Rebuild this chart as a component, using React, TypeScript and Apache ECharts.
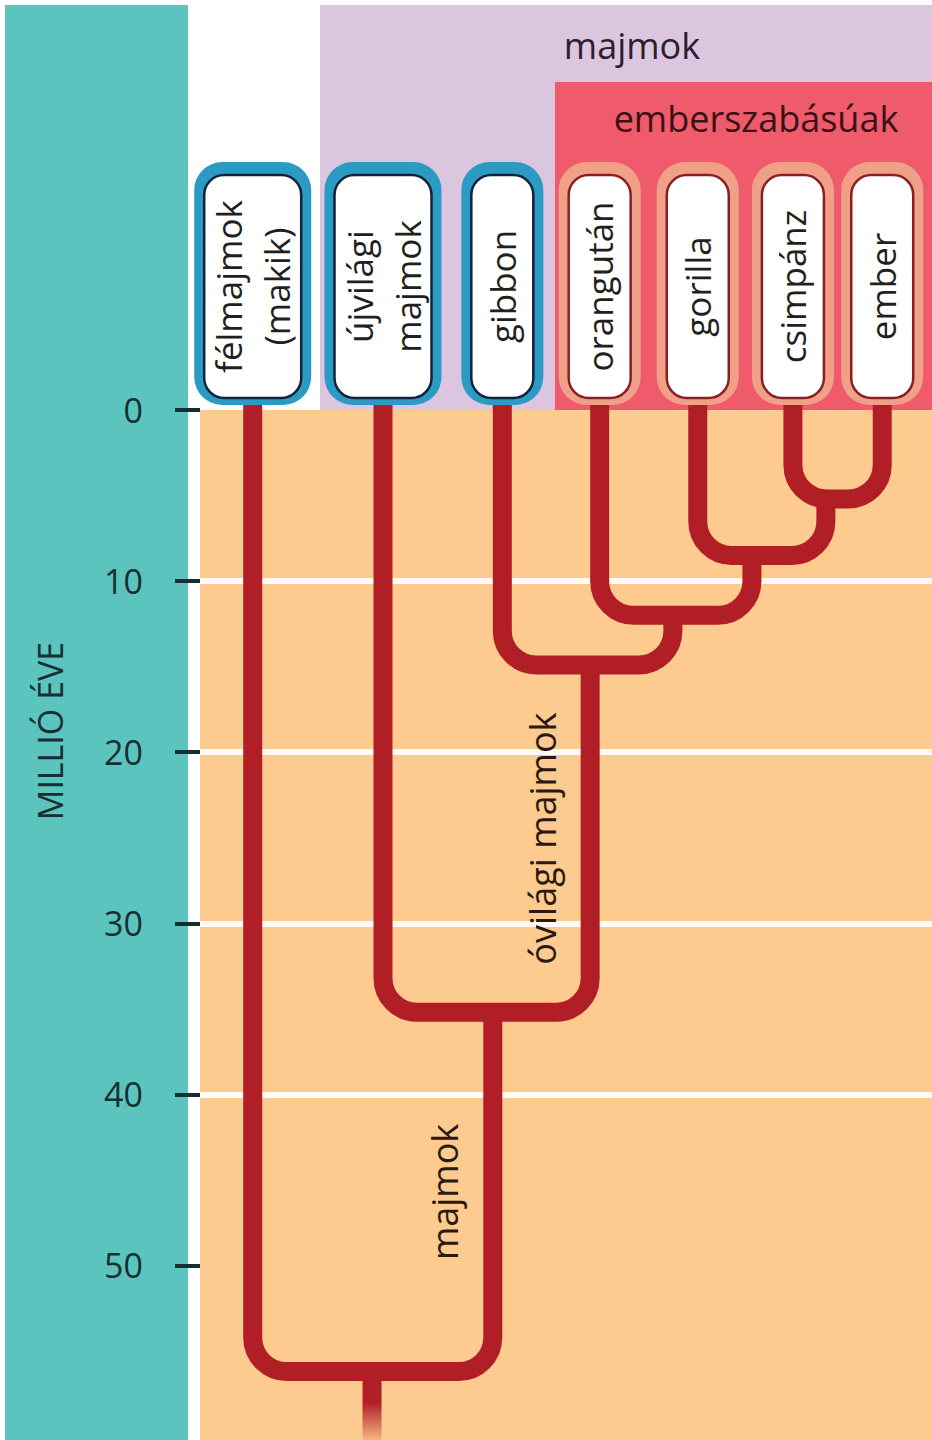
import React, { useEffect, useRef } from "react";
import * as echarts from "echarts";

// ---------------- data ----------------
const leafNames = ["félmajmok\n(makik)", "újvilági\nmajmok", "gibbon", "orangután", "gorilla", "csimpánz", "ember"];
// horizontal lane of each leaf (x-axis units, 0–100 across the plot)
const leafPos = [7.2, 25.0, 41.3, 54.6, 68.0, 81.0, 93.2];
const leafClade = ["majom", "majom", "majom", "ember", "ember", "ember", "ember"];
// internal nodes (divergences): children, age in million years, lane of the stem
const nodeLeft = ["L5", "L4", "L3", "L2", "L1", "L0"];
const nodeRight = ["L6", "N0", "N1", "N2", "N3", "N4"];
const nodeAge = [5.2, 8.5, 12.0, 14.9, 35.2, 56.2];
const nodePos = [85.5, 75.4, 64.6, 53.3, 40.0, 23.5];
const stemLabels = ["", "", "", "óvilági majmok", "majmok", ""];
const yTicks = [0, 10, 20, 30, 40, 50];
const axisTitle = "MILLIÓ ÉVE";
const groupLabels = ["majmok", "emberszabásúak"];

// ---------------- style ----------------
const FONT = '"Open Sans", "Noto Sans", sans-serif';
const TEAL = "#5cc4bf";
const ORANGE = "#fdca8f";
const PURPLE = "#dcc5df";
const REDBOX = "#ef5b6b";
const TREE = "#b21e26";
const BLUE = "#2c9bc4";
const SALMON = "#f0a089";
const LEAF_TOP = -0.45;
const Y_MAX = 60.2;

function refPos(ref: string): number {
  const i = +ref.slice(1);
  return ref[0] === "L" ? leafPos[i] : nodePos[i];
}
function refTop(ref: string): number {
  const i = +ref.slice(1);
  return ref[0] === "L" ? LEAF_TOP : nodeAge[i];
}
const parentAge = nodeAge.map((_, i) => {
  const key = "N" + i;
  const j = nodeLeft.findIndex((v, k) => v === key || nodeRight[k] === key);
  return j >= 0 ? nodeAge[j] : -1;
});
const treeData = nodeAge.map((a, i) => [
  refPos(nodeLeft[i]),
  refTop(nodeLeft[i]),
  refPos(nodeRight[i]),
  refTop(nodeRight[i]),
  nodePos[i],
  a,
  parentAge[i],
  i,
]);
const leafData = leafPos.map((p, i) => [p, i]);

export default function App() {
  const ref = useRef<HTMLDivElement>(null);
  useEffect(() => {
    if (!ref.current) return;
    const chart = echarts.init(ref.current, null, { renderer: "svg" });
    const R = 34;
    const option: any = {
      animation: false,
      backgroundColor: "#ffffff",
      grid: { left: 200, right: 0, top: 410, bottom: 0, show: false, outerBoundsMode: "none" },
      xAxis: { type: "value", min: 0, max: 100, show: false },
      yAxis: {
        type: "value",
        inverse: true,
        min: yTicks[0],
        max: Y_MAX,
        interval: yTicks[1] - yTicks[0],
        offset: 12,
        axisLine: { show: false },
        axisTick: { show: true, customValues: yTicks, length: 25, lineStyle: { color: "#17302f", width: 4 } },
        axisLabel: {
          customValues: yTicks,
          margin: 45,
          fontSize: 34,
          fontFamily: FONT,
          color: "#17302f",
          formatter: (v: number) => (yTicks.indexOf(v) >= 0 ? String(v) : ""),
        },
        splitLine: { show: true, showMinLine: false, showMaxLine: false, lineStyle: { color: "#fffaf3", width: 6 } },
      },
      graphic: [
        { type: "rect", z: -10, shape: { x: 5, y: 5, width: 183, height: 1435 }, style: { fill: TEAL } },
        { type: "rect", z: -10, shape: { x: 320, y: 5, width: 612, height: 406 }, style: { fill: PURPLE } },
        { type: "rect", z: -10, shape: { x: 555, y: 82, width: 377, height: 329 }, style: { fill: REDBOX } },
        { type: "rect", z: -10, shape: { x: 200, y: 410, width: 732, height: 1030 }, style: { fill: ORANGE } },
        {
          type: "text", z: 5, x: 632, y: 45,
          style: { text: groupLabels[0], fontSize: 36, fontFamily: FONT, fill: "#2a1f2d", align: "center", verticalAlign: "middle" },
        },
        {
          type: "text", z: 5, x: 756, y: 118,
          style: { text: groupLabels[1], fontSize: 36, fontFamily: FONT, fill: "#3a1116", align: "center", verticalAlign: "middle" },
        },
        {
          type: "text", z: 5, x: 50, y: 731, rotation: Math.PI / 2,
          style: { text: axisTitle, fontSize: 34, fontFamily: FONT, fill: "#17302f", align: "center", verticalAlign: "middle" },
        },
      ],
      series: [
        {
          type: "custom",
          clip: false,
          data: treeData,
          renderItem: (params: any, api: any) => {
            const [lX, lTY] = api.coord([api.value(0), api.value(1)]);
            const [rX, rTY] = api.coord([api.value(2), api.value(3)]);
            const [nX, yb] = api.coord([api.value(4), api.value(5)]);
            const pa = api.value(6);
            const idx = api.value(7);
            const r = Math.max(4, Math.min(R, (rX - lX) / 2 - 1, yb - lTY - 1, yb - rTY - 1));
            const c = r * 0.4477;
            const d =
              `M${lX},${lTY} L${lX},${yb - r} C${lX},${yb - c} ${lX + c},${yb} ${lX + r},${yb} ` +
              `L${rX - r},${yb} C${rX - c},${yb} ${rX},${yb - c} ${rX},${yb - r} L${rX},${rTY}`;
            const children: any[] = [
              { type: "path", shape: { pathData: d }, style: { fill: "none", stroke: TREE, lineWidth: 19, lineCap: "butt" } },
            ];
            if (pa < 0) {
              const bottom = params.coordSys.y + params.coordSys.height;
              children.push({
                type: "rect",
                shape: { x: nX - 9.5, y: yb, width: 19, height: bottom - yb },
                style: {
                  fill: new echarts.graphic.LinearGradient(0, 0, 0, 1, [
                    { offset: 0, color: TREE },
                    { offset: 0.45, color: TREE },
                    { offset: 1, color: "rgba(178,30,38,0.12)" },
                  ]),
                },
              });
            }
            const label = stemLabels[idx];
            if (label && pa >= 0) {
              const py = api.coord([api.value(4), pa])[1];
              children.push({
                type: "text",
                x: nX - 48,
                y: (yb + py) / 2,
                rotation: Math.PI / 2,
                style: { text: label, fontSize: 36, fontFamily: FONT, fill: "#2a1a12", align: "center", verticalAlign: "middle" },
              });
            }
            return { type: "group", children };
          },
        },
        {
          type: "custom",
          clip: false,
          data: leafData,
          renderItem: (params: any, api: any) => {
            const idx = api.value(1);
            const [cx, y0] = api.coord([api.value(0), 0]);
            const name = leafNames[idx];
            const lines = name.split("\n").length;
            const w = 82 + (lines - 1) * 35;
            const ape = leafClade[idx] === "ember";
            const top = y0 - 248;
            const h = 243;
            return {
              type: "group",
              children: [
                { type: "rect", shape: { x: cx - w / 2, y: top, width: w, height: h, r: 28 }, style: { fill: ape ? SALMON : BLUE } },
                {
                  type: "rect",
                  shape: { x: cx - w / 2 + 10, y: top + 13, width: w - 20, height: h - 20, r: 20 },
                  style: { fill: "#ffffff", stroke: ape ? "#8a1f22" : "#10233a", lineWidth: 2.5 },
                },
                {
                  type: "text",
                  x: cx,
                  y: top + 13 + (h - 20) / 2,
                  rotation: Math.PI / 2,
                  style: {
                    text: name, fontSize: 35, fontFamily: FONT, fill: "#231f20",
                    align: "center", verticalAlign: "middle", lineHeight: 48,
                  },
                },
              ],
            };
          },
        },
      ],
    };
    chart.setOption(option);
    return () => chart.dispose();
  }, []);
  return (
    <div
      ref={ref}
      style={{ position: "absolute", left: 0, top: 0, width: 932, height: 1440 }}
    />
  );
}
